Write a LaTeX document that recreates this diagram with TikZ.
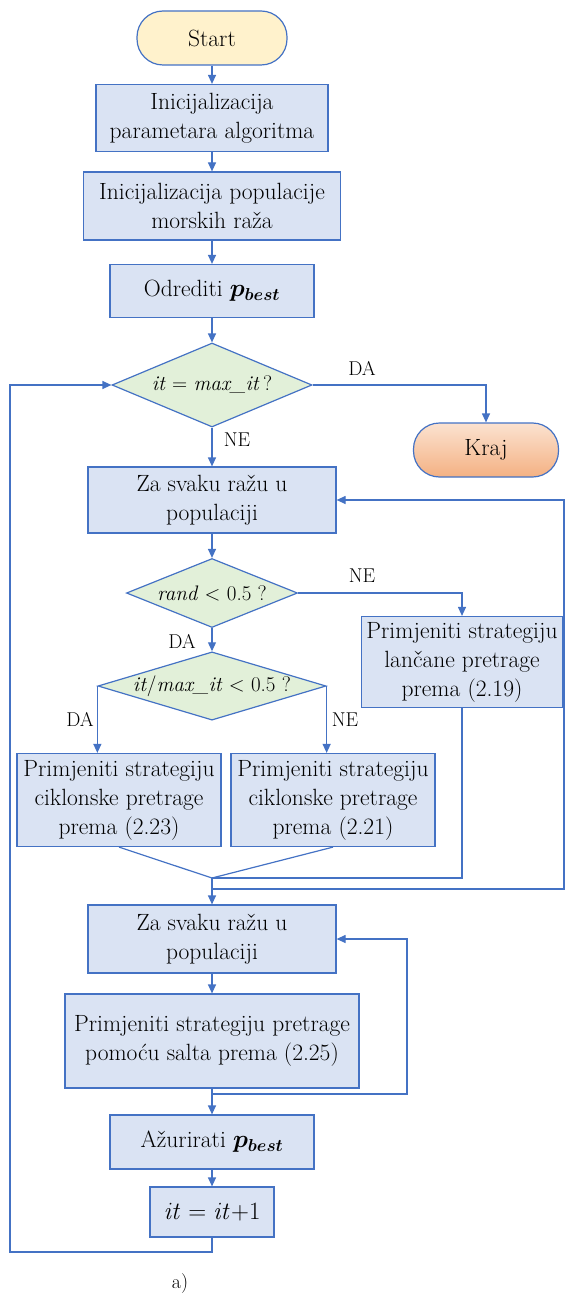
\documentclass[tikz,border=0pt]{standalone}
\usepackage{bm}
\usetikzlibrary{positioning, arrows.meta, shapes.geometric}

\definecolor{lineblue}{HTML}{4472C4}
\definecolor{boxfill}{HTML}{DAE3F3}
\definecolor{decfill}{HTML}{E2F0D9}
\definecolor{startfill}{HTML}{FFF2CC}
\definecolor{endtop}{HTML}{FBE2D0}
\definecolor{endbot}{HTML}{F4B183}

\begin{document}
\begin{tikzpicture}[
    x=1pt, y=-1pt,
    font=\fontsize{23.5}{29}\selectfont,
    process/.style  = {rectangle, draw=lineblue, fill=boxfill, line width=1.2pt, align=center, inner sep=2pt},
    decision/.style = {diamond, draw=lineblue, fill=decfill, line width=1.2pt, inner sep=0pt, font=\fontsize{21}{25}\selectfont},
    terminal/.style = {rectangle, rounded corners=26pt, draw=lineblue, line width=1.2pt, minimum width=150pt, minimum height=54pt},
    answer/.style   = {font=\fontsize{20}{22}\selectfont},
    flow/.style     = {draw=lineblue, line width=1.2pt},
    >={Triangle[length=9pt, width=8pt]}
]
\useasboundingbox (0,0) rectangle (565,1297);

% start and initialisation
\node[terminal, fill=startfill] (start) at (212, 38) {Start};
\node[process, minimum width=232pt, minimum height=67pt] (init1) at (212, 118) {Inicijalizacija\\parametara algoritma};
\node[process, minimum width=257pt, minimum height=68pt] (init2) at (212, 206) {Inicijalizacija populacije\\morskih raža};
\node[process, minimum width=204pt, minimum height=53pt] (best) at (212, 291) {Odrediti $\bm{p}_{\bm{best}}$};

% main loop test
\node[decision, shape aspect=2.38, minimum width=200pt, minimum height=84pt] (cond1) at (212, 385) {\textit{it} = \textit{max\_it}\,?};
\node[terminal, top color=endtop, bottom color=endbot, minimum width=145pt] (kraj) at (486, 450) {Kraj};

% first pass over the population
\node[process, minimum width=248pt, minimum height=66pt] (za1) at (212, 500) {Za svaku ražu u\\populaciji};
\node[decision, shape aspect=2.48, minimum width=171pt, minimum height=69pt] (cond2) at (212, 593) {\textit{rand} $<$ 0.5 ?};
\node[process, minimum width=201pt, minimum height=91pt] (lanc) at (462, 662) {Primjeniti strategiju\\lančane pretrage\\prema (2.19)};
\node[decision, shape aspect=3.34, minimum width=224pt, minimum height=67pt] (cond3) at (212, 686) {\textit{it}/\textit{max\_it} $<$ 0.5 ?};
\node[process, minimum width=204pt, minimum height=93pt] (cikl1) at (119, 800) {Primjeniti strategiju\\ciklonske pretrage\\prema (2.23)};
\node[process, minimum width=204pt, minimum height=93pt] (cikl2) at (333, 800) {Primjeniti strategiju\\ciklonske pretrage\\prema (2.21)};
\coordinate (merge) at (212, 878);
\coordinate (loopR) at (564, 889);

% second pass over the population
\node[process, minimum width=248pt, minimum height=68pt] (za2) at (212, 939) {Za svaku ražu u\\populaciji};
\node[process, minimum width=294pt, minimum height=94pt] (salt) at (212, 1041) {Primjeniti strategiju pretrage\\pomoću salta prema (2.25)};
\coordinate (loopS) at (407, 1094);
\node[process, minimum width=204pt, minimum height=54pt] (azur) at (212, 1142) {Ažurirati $\bm{p}_{\bm{best}}$};
\node[process, minimum width=124pt, minimum height=50pt] (itinc) at (212, 1212) {$\mathit{it}=\mathit{it}{+}1$};
\coordinate (loopL) at (10, 1252);

% branch labels
\node[answer] (da1) at (362, 368) {DA};
\node[answer] (ne1) at (237, 440) {NE};
\node[answer] (ne2) at (362, 576) {NE};
\node[answer] (da2) at (182, 641) {DA};
\node[answer] (da3) at (80, 719) {DA};
\node[answer] (ne3) at (345, 720) {NE};
\node[answer] (cap) at (180, 1283) {a)};

% connections
\draw[flow, ->] (start) -- (init1);
\draw[flow, ->] (init1) -- (init2);
\draw[flow, ->] (init2) -- (best);
\draw[flow, ->] (best) -- (cond1);
\draw[flow, ->] (cond1.east) -| (kraj.north);
\draw[flow, ->] (cond1) -- (za1);
\draw[flow, ->] (za1) -- (cond2);
\draw[flow, ->] (cond2.east) -| (lanc.north);
\draw[flow, ->] (cond2) -- (cond3);
\draw[flow, ->] (cond3.west) -- (cond3.west |- cikl1.north);
\draw[flow, ->] (cond3.east) -- (cond3.east |- cikl2.north);
\draw[flow] (cikl1.south) -- (merge);
\draw[flow] (cikl2.south) -- (merge);
\draw[flow] (lanc.south) |- (merge);
\draw[flow, ->] (merge) -- (za2);
\draw[flow, ->] (merge |- loopR) -- (loopR) |- (za1.east);
\draw[flow, ->] (za2) -- (salt);
\draw[flow, ->] (salt) -- (azur);
\draw[flow, ->] (salt.south |- loopS) -- (loopS) |- (za2.east);
\draw[flow, ->] (azur) -- (itinc);
\draw[flow, ->] (itinc.south) |- (loopL) |- (cond1.west);

\end{tikzpicture}
\end{document}
